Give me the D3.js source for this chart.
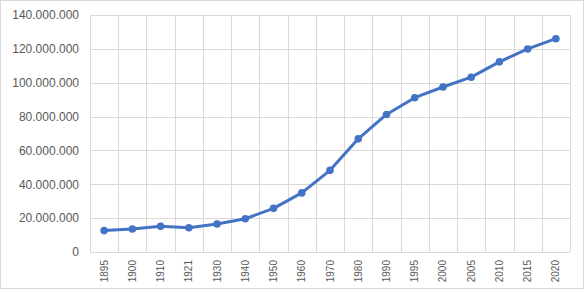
<!DOCTYPE html>
<html>
<head>
<meta charset="utf-8">
<script src="https://cdn.jsdelivr.net/npm/d3@7"></script>
<style>
  body { margin: 0; background: #fff; }
  svg { display: block; }
</style>
</head>
<body>
<svg id="chart" width="586" height="292"></svg>
<script>
// population by census year
const years = ["1895", "1900", "1910", "1921", "1930", "1940", "1950", "1960", "1970",
    "1980", "1990", "1995", "2000", "2005", "2010", "2015", "2020"];
const population = [12632000, 13607000, 15160000, 14335000, 16553000, 19654000, 25791000,
    34923000, 48225000, 66847000, 81250000, 91158000, 97483000, 103263000, 112337000,
    119938000, 126014000];
const yTicks = [0, 20000000, 40000000, 60000000, 80000000, 100000000, 120000000, 140000000];

const width = 586;
const height = 292;
const margin = { top: 15, left: 90, bottom: 40, right: 16 };

const svg = d3.select("#chart");

// outer frame
svg.append("rect")
    .attr("x", 0.5).attr("y", 0.5)
    .attr("width", 583).attr("height", 288)
    .attr("fill", "#fff")
    .attr("stroke", "#d9d9d9");

const x = d3.scaleBand()
    .domain(years)
    .range([margin.left, width - margin.right]);

const y = d3.scaleLinear()
    .domain([0, 140000000])
    .range([height - margin.bottom, margin.top]);

const fmt = (d) => d3.format(",")(d).replace(/,/g, ".");

// horizontal grid + labels
const yAxis = svg.append("g")
    .attr("transform", "translate(" + margin.left + ",0)")
    .call(d3.axisLeft(y).tickValues(yTicks).tickFormat(fmt)
        .tickSize(-(width - margin.left - margin.right)).tickPadding(11));
yAxis.select(".domain").remove();
yAxis.selectAll("line").attr("stroke", "#d9d9d9").attr("shape-rendering", "crispEdges");
yAxis.selectAll("text")
    .attr("fill", "#595959")
    .style("font-family", "Liberation Sans, Arial, sans-serif")
    .style("font-size", "12px");

// vertical grid lines between categories
const bounds = years.map((d) => x(d)).concat([x(years[years.length - 1]) + x.bandwidth()]);
svg.append("g")
    .selectAll("line")
    .data(bounds)
    .join("line")
    .attr("x1", (d) => Math.round(d) + 0.5)
    .attr("x2", (d) => Math.round(d) + 0.5)
    .attr("y1", y(140000000))
    .attr("y2", y(0))
    .attr("stroke", "#d9d9d9");

// category labels, rotated
svg.append("g")
    .selectAll("text")
    .data(years)
    .join("text")
    .attr("transform", (d) => "translate(" + (x(d) + x.bandwidth() / 2 + 3.5) + "," + (y(0) + 8) + ") rotate(-90)")
    .attr("text-anchor", "end")
    .attr("fill", "#595959")
    .style("font-family", "Liberation Sans, Arial, sans-serif")
    .style("font-size", "10px")
    .text((d) => d);

const line = d3.line()
    .x((d, i) => x(years[i]) + x.bandwidth() / 2)
    .y((d) => y(d));

svg.append("path")
    .datum(population)
    .attr("d", line)
    .attr("fill", "none")
    .attr("stroke", "#4472c4")
    .attr("stroke-width", 3)
    .attr("stroke-linejoin", "round")
    .attr("stroke-linecap", "round");

svg.append("g")
    .selectAll("circle")
    .data(population)
    .join("circle")
    .attr("cx", (d, i) => x(years[i]) + x.bandwidth() / 2)
    .attr("cy", (d) => y(d))
    .attr("r", 3.8)
    .attr("fill", "#4472c4");
</script>
</body>
</html>
